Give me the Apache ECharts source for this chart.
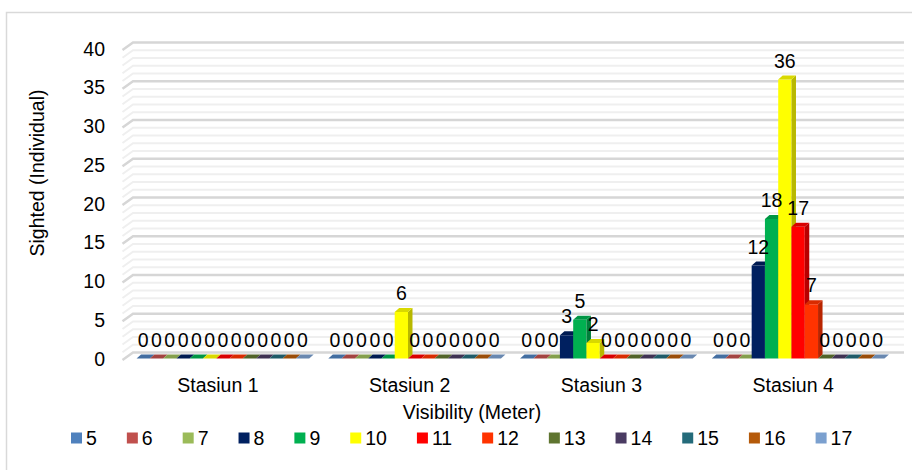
<!DOCTYPE html>
<html>
<head>
<meta charset="utf-8">
<script src="https://cdn.jsdelivr.net/npm/echarts@6/dist/echarts.min.js"></script>
<style>
  html, body { margin: 0; padding: 0; background: #ffffff; }
  #chart { width: 912px; height: 470px; }
</style>
</head>
<body>
<div id="chart"></div>
<script>
// Stations on the category axis
const stations = ['Stasiun 1', 'Stasiun 2', 'Stasiun 3', 'Stasiun 4'];

// Visibility classes (meters), one series each
const visibilityClasses = ['5', '6', '7', '8', '9', '10', '11', '12', '13', '14', '15', '16', '17'];

// Individuals sighted per station for each visibility class
const vis5  = [0, 0, 0, 0];
const vis6  = [0, 0, 0, 0];
const vis7  = [0, 0, 0, 0];
const vis8  = [0, 0, 3, 12];
const vis9  = [0, 0, 5, 18];
const vis10 = [0, 6, 2, 36];
const vis11 = [0, 0, 0, 17];
const vis12 = [0, 0, 0, 7];
const vis13 = [0, 0, 0, 0];
const vis14 = [0, 0, 0, 0];
const vis15 = [0, 0, 0, 0];
const vis16 = [0, 0, 0, 0];
const vis17 = [0, 0, 0, 0];
const seriesValues = [vis5, vis6, vis7, vis8, vis9, vis10, vis11, vis12, vis13, vis14, vis15, vis16, vis17];

// Value axis range and tick step
const yMin = 0;
const yMax = 40;
const yStep = 5;

const seriesColors = [
  '#4F81BD', '#C0504D', '#9BBB59', '#002060', '#00B050', '#FFFF00', '#FF0000',
  '#FF3300', '#5F7530', '#4A3B62', '#246B7A', '#B55A0A', '#7BA0CF'
];

const FONT = '"Liberation Sans", Arial, sans-serif';
const FS = 19.5;
const CAT_GAP = 0.10;      // share of each category band left empty
const DEPTH_X = 4.5;       // column depth offsets
const DEPTH_Y = 4;
const WALL_DY = 6;         // back wall sits above the front plane

function shade(hex, f) {
  const n = parseInt(hex.slice(1), 16);
  const r = Math.round(((n >> 16) & 255) * f);
  const g = Math.round(((n >> 8) & 255) * f);
  const b = Math.round((n & 255) * f);
  return 'rgb(' + r + ',' + g + ',' + b + ')';
}

function columnRenderer(idx, color) {
  const count = seriesValues.length;
  return function (params, api) {
    const cat = api.value(0);
    const val = api.value(1);
    const base = api.coord([cat, 0]);
    const top = api.coord([cat, val]);
    const band = api.size([1, 0])[0];
    const groupW = band * (1 - CAT_GAP);
    const bw = groupW / count;
    const x = base[0] - groupW / 2 + idx * bw;
    const y0 = base[1];
    const y1 = top[1];
    const children = [];
    if (val > 0) {
      children.push({
        type: 'rect',
        shape: { x: x, y: y1, width: bw, height: y0 - y1 },
        style: { fill: color }
      });
      children.push({
        type: 'polygon',
        shape: { points: [[x + bw, y1], [x + bw + DEPTH_X, y1 - DEPTH_Y], [x + bw + DEPTH_X, y0 - DEPTH_Y], [x + bw, y0]] },
        style: { fill: shade(color, 0.72) }
      });
    }
    children.push({
      type: 'polygon',
      shape: { points: [[x, y1], [x + DEPTH_X, y1 - DEPTH_Y], [x + bw + DEPTH_X, y1 - DEPTH_Y], [x + bw, y1]] },
      style: { fill: shade(color, 0.85) }
    });
    children.push({
      type: 'text',
      x: x + bw / 2,
      y: y1 - 9,
      z2: 100,
      style: {
        text: String(val),
        fill: '#000000',
        font: FS + 'px ' + FONT,
        align: 'center',
        verticalAlign: 'bottom'
      }
    });
    return { type: 'group', children: children };
  };
}

// Back-wall gridlines: one line per unit, darker on the major ticks
const wallLines = [];
for (let v = yMin; v <= yMax; v += 1) wallLines.push([0, v]);

function wallRenderer(params, api) {
  const v = api.value(1);
  const cs = params.coordSys;
  const yb = api.coord([0, v])[1] - WALL_DY;
  const major = v % yStep === 0;
  return {
    type: 'polyline',
    silent: true,
    z2: major ? 1 : 0,
    shape: { points: [[cs.x - 4.5, yb + 7.5], [cs.x + 6, yb], [cs.x + cs.width + 10, yb]] },
    style: { stroke: major ? '#d6d6d6' : '#efefef', lineWidth: major ? 2.5 : 2, fill: null }
  };
}

const series = [{
  type: 'custom',
  name: 'wall',
  z: 1,
  silent: true,
  renderItem: wallRenderer,
  encode: { x: 0, y: 1 },
  data: wallLines
}];

visibilityClasses.forEach(function (name, i) {
  series.push({
    type: 'custom',
    name: name,
    z: 2,
    renderItem: columnRenderer(i, seriesColors[i]),
    encode: { x: 0, y: 1 },
    itemStyle: { color: seriesColors[i] },
    data: seriesValues[i].map(function (v, c) { return [c, v]; })
  });
});

const chart = echarts.init(document.getElementById('chart'), null, { renderer: 'svg' });
chart.setOption({
  animation: false,
  backgroundColor: '#ffffff',
  color: seriesColors,
  textStyle: { fontFamily: FONT },
  grid: { left: 127, right: 18, top: 48.5, bottom: 111.5, containLabel: false },
  xAxis: {
    type: 'category',
    data: stations,
    boundaryGap: true,
    axisLine: { show: false },
    axisTick: { show: false },
    splitLine: { show: false },
    axisLabel: { color: '#000000', fontSize: FS, fontFamily: FONT, margin: 16, padding: [0, 10, 0, 0] }
  },
  yAxis: {
    type: 'value',
    min: yMin,
    max: yMax,
    interval: yStep,
    axisLine: { show: false },
    axisTick: { show: false },
    splitLine: { show: false },
    axisLabel: { color: '#000000', fontSize: FS, fontFamily: FONT, margin: 22, padding: [7, 0, 0, 0] }
  },
  legend: {
    data: visibilityClasses,
    left: 71,
    top: 428,
    icon: 'rect',
    itemWidth: 11,
    itemHeight: 11,
    itemGap: 30,
    padding: 0,
    textStyle: { color: '#000000', fontSize: FS, fontFamily: FONT, padding: [0, 0, 0, -1] }
  },
  graphic: [
    {
      type: 'rect',
      silent: true,
      shape: { x: 6.5, y: 12.5, width: 1000, height: 1000 },
      style: { fill: null, stroke: '#d9d9d9', lineWidth: 1.5 }
    },
    {
      type: 'text',
      x: 37,
      y: 173,
      rotation: Math.PI / 2,
      style: { text: 'Sighted (Individual)', fill: '#000000', font: FS + 'px ' + FONT, align: 'center', verticalAlign: 'middle' }
    },
    {
      type: 'text',
      x: 472,
      y: 412,
      style: { text: 'Visibility (Meter)', fill: '#000000', font: FS + 'px ' + FONT, align: 'center', verticalAlign: 'middle' }
    }
  ],
  series: series
});
</script>
</body>
</html>
